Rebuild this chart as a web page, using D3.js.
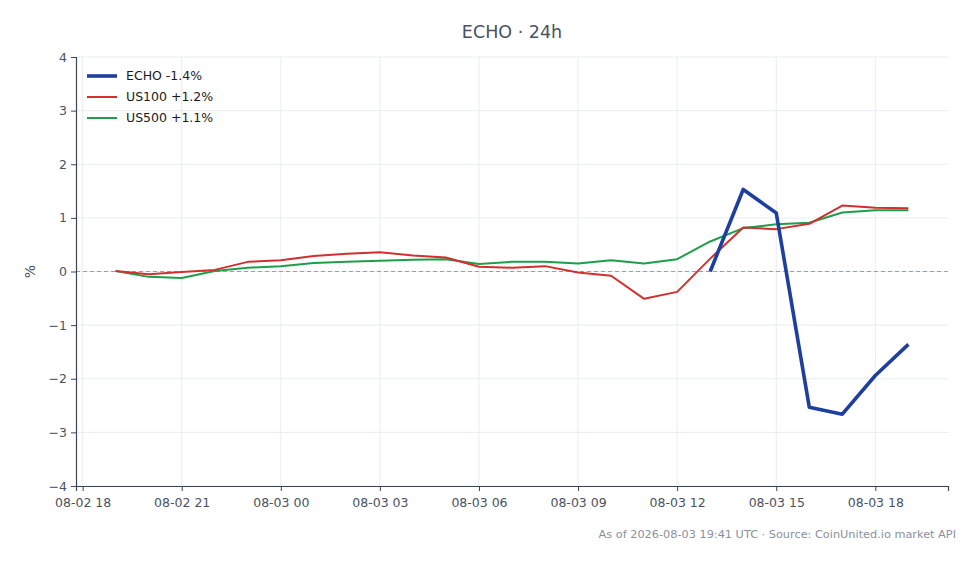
<!doctype html>
<html>
  <head>
    <meta charset="UTF-8"/>
    <title>ECHO 24h</title>
    <script src="https://d3js.org/d3.v7.min.js"></script>
    <style>
      body {
          margin: 0;
          padding: 0;
          background: #fff;
      }
      svg text {
          font-family: "DejaVu Sans", sans-serif;
      }
    </style>
  </head>
  <body>
    <svg id="chart" width="980" height="564"></svg>
    <script>
      // hourly points, 08-02 19:00 .. 08-03 19:00 UTC
      const startHour = "2026-08-02T19:00:00Z";
      const us100 = [0.01, -0.05, -0.01, 0.03, 0.18, 0.21, 0.29, 0.33, 0.36, 0.30, 0.26, 0.09, 0.07, 0.10,
                     -0.02, -0.08, -0.51, -0.38, 0.24, 0.82, 0.79, 0.89, 1.23, 1.19, 1.18];
      const us500 = [0.01, -0.10, -0.12, 0.01, 0.07, 0.10, 0.16, 0.18, 0.20, 0.22, 0.23, 0.14, 0.18, 0.18,
                     0.15, 0.21, 0.15, 0.23, 0.56, 0.81, 0.88, 0.91, 1.10, 1.14, 1.14];
      // ECHO only from 08-03 13:00
      const echoStart = 18;
      const echo = [0.00, 1.53, 1.09, -2.53, -2.66, -1.94, -1.36];
      const yTicks = [-4, -3, -2, -1, 0, 1, 2, 3, 4];
      const footer = "As of 2026-08-03 19:41 UTC · Source: CoinUnited.io market API";

      const t0 = new Date(startHour);
      const hour = i => new Date(t0.getTime() + i * 3600e3);
      const series = [
        {name: "ECHO", color: "#1f3f9f", width: 3.6, pts: echo.map((v, i) => ({t: hour(echoStart + i), v}))},
        {name: "US100", color: "#d32f2f", width: 2, pts: us100.map((v, i) => ({t: hour(i), v}))},
        {name: "US500", color: "#1e9e4a", width: 2, pts: us500.map((v, i) => ({t: hour(i), v}))}
      ];

      const svg = d3.select("#chart");
      const m = {left: 76, right: 32, top: 57, bottom: 78};
      const W = 980, H = 564;

      const tMin = hour(0), tMax = hour(us100.length - 1);
      const pad = (tMax - tMin) * 0.05;
      const x = d3.scaleUtc()
        .domain([new Date(tMin - pad), new Date(+tMax + pad)])
        .range([m.left, W - m.right]);
      const y = d3.scaleLinear().domain([-4, 4]).range([H - m.bottom, m.top]);

      const xTicks = d3.utcHour.every(3).range(new Date("2026-08-02T18:00:00Z"), new Date("2026-08-03T19:00:00Z"));

      // grid
      const grid = svg.append("g");
      grid.selectAll("line.gx").data(xTicks).join("line")
        .attr("x1", d => x(d)).attr("x2", d => x(d))
        .attr("y1", m.top).attr("y2", H - m.bottom)
        .attr("stroke", "#e3e7ec").attr("stroke-width", 0.8);
      grid.selectAll("line.gy").data(yTicks).join("line")
        .attr("x1", m.left).attr("x2", W - m.right)
        .attr("y1", d => y(d)).attr("y2", d => y(d))
        .attr("stroke", "#e3e7ec").attr("stroke-width", 0.8);

      // zero line
      svg.append("line")
        .attr("x1", m.left).attr("x2", W - m.right)
        .attr("y1", y(0)).attr("y2", y(0))
        .attr("stroke", "#94a0b8").attr("stroke-width", 1)
        .attr("stroke-dasharray", "4,3");

      // axes
      const fmtX = d3.utcFormat("%m-%d %H");
      const xAxis = svg.append("g")
        .attr("transform", `translate(0,${H - m.bottom})`)
        .call(d3.axisBottom(x).tickValues(xTicks).tickFormat(fmtX).tickSize(5).tickPadding(7));
      const yAxis = svg.append("g")
        .attr("transform", `translate(${m.left},0)`)
        .call(d3.axisLeft(y).tickValues(yTicks).tickFormat(d3.format("d")).tickSize(5).tickPadding(4));
      [xAxis, yAxis].forEach(a => {
        a.select(".domain").attr("stroke", "#3b4556").attr("stroke-width", 1.2);
        a.selectAll(".tick line").attr("stroke", "#3b4556");
        a.selectAll(".tick text").attr("fill", "#4a5262").style("font-size", "12.5px");
      });

      // lines
      const line = d3.line().x(d => x(d.t)).y(d => y(d.v));
      svg.append("g").selectAll("path").data(series.slice().reverse()).join("path")
        .attr("d", d => line(d.pts))
        .attr("fill", "none")
        .attr("stroke", d => d.color)
        .attr("stroke-width", d => d.width)
        .attr("stroke-linejoin", "round");

      // legend
      const fmtPct = v => (v >= 0 ? "+" : "") + v.toFixed(1) + "%";
      const lg = svg.append("g").attr("transform", "translate(87,76)");
      const row = lg.selectAll("g").data(series).join("g")
        .attr("transform", (d, i) => `translate(0,${i * 21})`);
      row.append("line")
        .attr("x1", 0).attr("x2", 30).attr("y1", 0).attr("y2", 0)
        .attr("stroke", d => d.color).attr("stroke-width", d => d.width);
      row.append("text")
        .attr("x", 39).attr("y", 0).attr("dy", "0.35em")
        .attr("fill", "#1a1a1a").style("font-size", "12.5px")
        .text(d => `${d.name} ${fmtPct(d.pts[d.pts.length - 1].v)}`);

      // y label
      svg.append("text")
        .attr("transform", `translate(35,${y(0)}) rotate(-90)`)
        .attr("text-anchor", "middle")
        .attr("fill", "#4a5262").style("font-size", "14px")
        .text("%");

      // title
      svg.append("text")
        .attr("x", (m.left + W - m.right) / 2).attr("y", 38)
        .attr("text-anchor", "middle")
        .attr("fill", "#4a5262").style("font-size", "17.5px")
        .text("ECHO · 24h");

      // footer
      svg.append("text")
        .attr("x", 956).attr("y", 538)
        .attr("text-anchor", "end")
        .attr("fill", "#8a919c").style("font-size", "11.3px")
        .text(footer);
    </script>
  </body>
</html>
